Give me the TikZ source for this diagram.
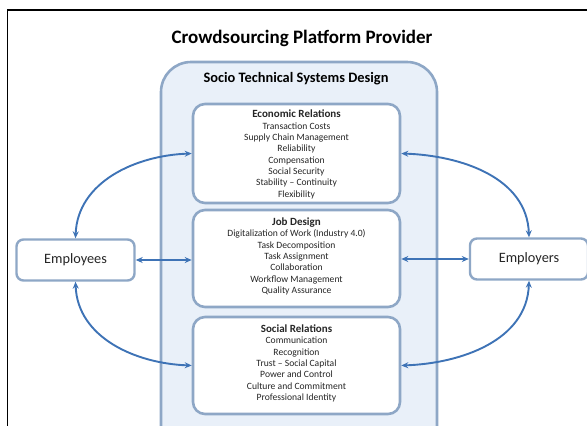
\documentclass[tikz,border=0pt]{standalone}
\usepackage{fontspec}
\setmainfont{Carlito}
\usetikzlibrary{arrows.meta}
\definecolor{frameblue}{HTML}{8EA7C6}
\definecolor{panelfill}{HTML}{E9F0F9}
\definecolor{arrowblue}{HTML}{3E73B6}
\definecolor{textgray}{HTML}{262626}
\newcommand{\areahead}[1]{{\bfseries\fontsize{11}{11.5}\selectfont #1}}
\tikzset{
  area/.style={draw=frameblue, line width=2.6pt, fill=white, rounded corners=12pt,
    minimum width=207pt, minimum height=97pt, inner sep=0pt},
  areatext/.style={align=center, inner sep=0pt, text=textgray,
    font=\fontsize{9.6}{11.35}\selectfont},
  party/.style={draw=frameblue, line width=2.4pt, fill=white, rounded corners=7pt,
    minimum width=118pt, minimum height=41pt, inner sep=0pt,
    text=textgray, font=\fontsize{14.3}{16}\selectfont},
  link/.style={draw=arrowblue, line width=1.9pt,
    {Stealth[length=7pt,width=6pt]}-{Stealth[length=7pt,width=6pt]}},
}
\begin{document}
\begin{tikzpicture}[x=1pt,y=-1pt]
  \useasboundingbox (0,0) rectangle (587,426);
  % outer frame
  \draw[black, line width=1.8pt] (7.5,440) -- (7.5,10) -- (600,10);
  % socio-technical systems panel
  \draw[frameblue, fill=panelfill, line width=2.6pt, rounded corners=30pt]
    (161,450) -- (161,62) -- (437,62) -- (437,450);
  \node[font=\bfseries\fontsize{19}{22}\selectfont, text=black] (title) at (302,38)
    {Crowdsourcing Platform Provider};
  \node[font=\bfseries\fontsize{14.4}{17}\selectfont, text=black] (std) at (296,79)
    {Socio Technical Systems Design};
  % the three design areas
  \node[area, minimum height=99pt] (econ) at (296.5,153.5) {};
  \node[areatext] (econtext) at (296.5,154.5) {\areahead{Economic Relations}\\Transaction Costs\\Supply Chain Management\\Reliability\\Compensation\\Social Security\\Stability -- Continuity\\Flexibility};
  \node[area] (job) at (296.5,258.5) {};
  \node[areatext] (jobtext) at (296.5,256.5) {\areahead{Job Design}\\Digitalization of Work (Industry 4.0)\\Task Decomposition\\Task Assignment\\Collaboration\\Workflow Management\\Quality Assurance};
  \node[area] (soc) at (296.5,365.5) {};
  \node[areatext] (soctext) at (296.5,363.5) {\areahead{Social Relations}\\Communication\\Recognition\\Trust -- Social Capital\\Power and Control\\Culture and Commitment\\Professional Identity};
  % the two parties
  \node[party] (emp) at (75.5,260) {Employees};
  \node[party] (empl) at (529,259) {Employers};
  % relations
  \draw[link] (emp.north) to[out=88,in=182] (econ.west);
  \draw[link] (emp.east) -- (emp.east -| job.west);
  \draw[link] (emp.south) to[out=-88,in=178] (soc.west);
  \draw[link] (econ.east) to[out=-2,in=92] (empl.north);
  \draw[link] (job.east |- empl.west) -- (empl.west);
  \draw[link] (soc.east) to[out=2,in=-92] (empl.south);
\end{tikzpicture}
\end{document}
